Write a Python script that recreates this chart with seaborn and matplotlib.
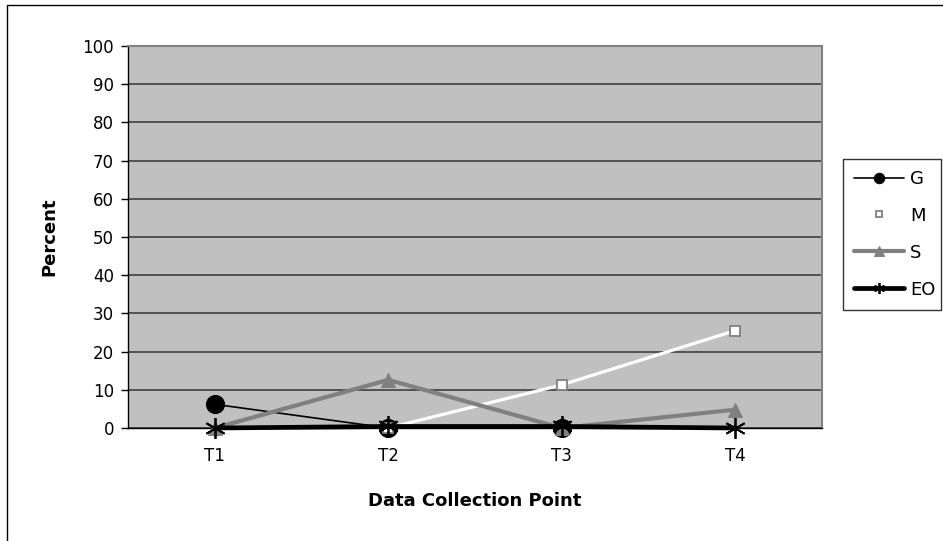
import numpy as np
import pandas as pd
import matplotlib
matplotlib.use("Agg")
import matplotlib.pyplot as plt
import seaborn as sns

categories = ["T1", "T2", "T3", "T4"]
g_vals = [6.2, 0, 0, np.nan]
m_vals = [np.nan, 0, 11.3, 25.5]
s_vals = [0, 12.6, 0, 4.8]
eo_vals = [0, 0.4, 0.4, 0]

sns.set_style("white")
plt.rcParams['font.family'] = ['DejaVu Sans']
plt.rcParams.update({"text.color": "black", "axes.labelcolor": "black",
                     "xtick.color": "black", "ytick.color": "black"})

fig = plt.figure(figsize=(9.43, 5.41), dpi=100)
ax = fig.add_axes([128/943, 113/541, 694/943, 382/541])
ax.set_facecolor("#C0C0C0")

xs = list(range(len(categories)))
series = [
    ("G", g_vals, dict(color="black", lw=1.2, marker="o", ms=13, mfc="black", mec="black")),
    ("M", m_vals, dict(color="white", lw=2.3, marker="s", ms=7.5, mfc="white", mec="#808080", mew=1.3)),
    ("S", s_vals, dict(color="#808080", lw=3, marker="^", ms=10, mfc="#808080", mec="#808080")),
    ("EO", eo_vals, dict(color="black", lw=3.4, marker=(6, 2, 0), ms=15, mec="black", mew=1.3)),
]
for name, vals, kw in series:
    df = pd.DataFrame({"x": xs, "y": vals}).dropna()
    sns.lineplot(data=df, x="x", y="y", ax=ax, label=name, clip_on=False, zorder=3, **kw)

ax.set_xlim(-0.5, 3.5)
ax.set_ylim(0, 100)
ax.set_yticks(range(0, 101, 10))
ax.yaxis.grid(True, color="#404040", lw=1.2)
ax.set_axisbelow(True)
ax.set_xticks(xs)
ax.set_xticklabels(categories)
ax.set_xticks([-0.5, 0.5, 1.5, 2.5, 3.5], minor=True)
ax.tick_params(axis="x", which="major", length=0, pad=14, labelsize=12)
ax.tick_params(axis="x", which="minor", length=3.5, width=1, color="black", direction="out")
ax.tick_params(axis="y", length=5, width=1, color="black", direction="out", labelsize=12, left=True, pad=5)
for sp in ["top", "right"]:
    ax.spines[sp].set_color("#808080")
    ax.spines[sp].set_linewidth(1.5)
for sp in ["left", "bottom"]:
    ax.spines[sp].set_color("black")
    ax.spines[sp].set_linewidth(1)

ax.set_xlabel("Data Collection Point", fontsize=13, fontweight="bold", labelpad=19)
ax.set_ylabel("Percent", fontsize=13, fontweight="bold", labelpad=17)

handles, labels = ax.get_legend_handles_labels()
leg = ax.legend(handles, labels, loc="upper left",
                bbox_to_anchor=(843/943, (541-159)/541 - 0.01, 98/943, 0.01),
                bbox_transform=fig.transFigure, mode="expand", frameon=True, fancybox=False,
                edgecolor="black", fontsize=13, handlelength=2.8, labelspacing=1.05,
                borderpad=0.6, handletextpad=0.3, borderaxespad=0)
leg.get_frame().set_linewidth(1)
for h, ms in zip(leg.legend_handles, [7.5, 5, 7.5, 8]):
    h.set_markersize(ms)

fig.patches.append(plt.Rectangle((7/943, -0.05), 1.2, (541-5)/541 + 0.05,
                                 transform=fig.transFigure, fill=False, edgecolor="black", lw=1))
fig.savefig("out.png", dpi=100)
